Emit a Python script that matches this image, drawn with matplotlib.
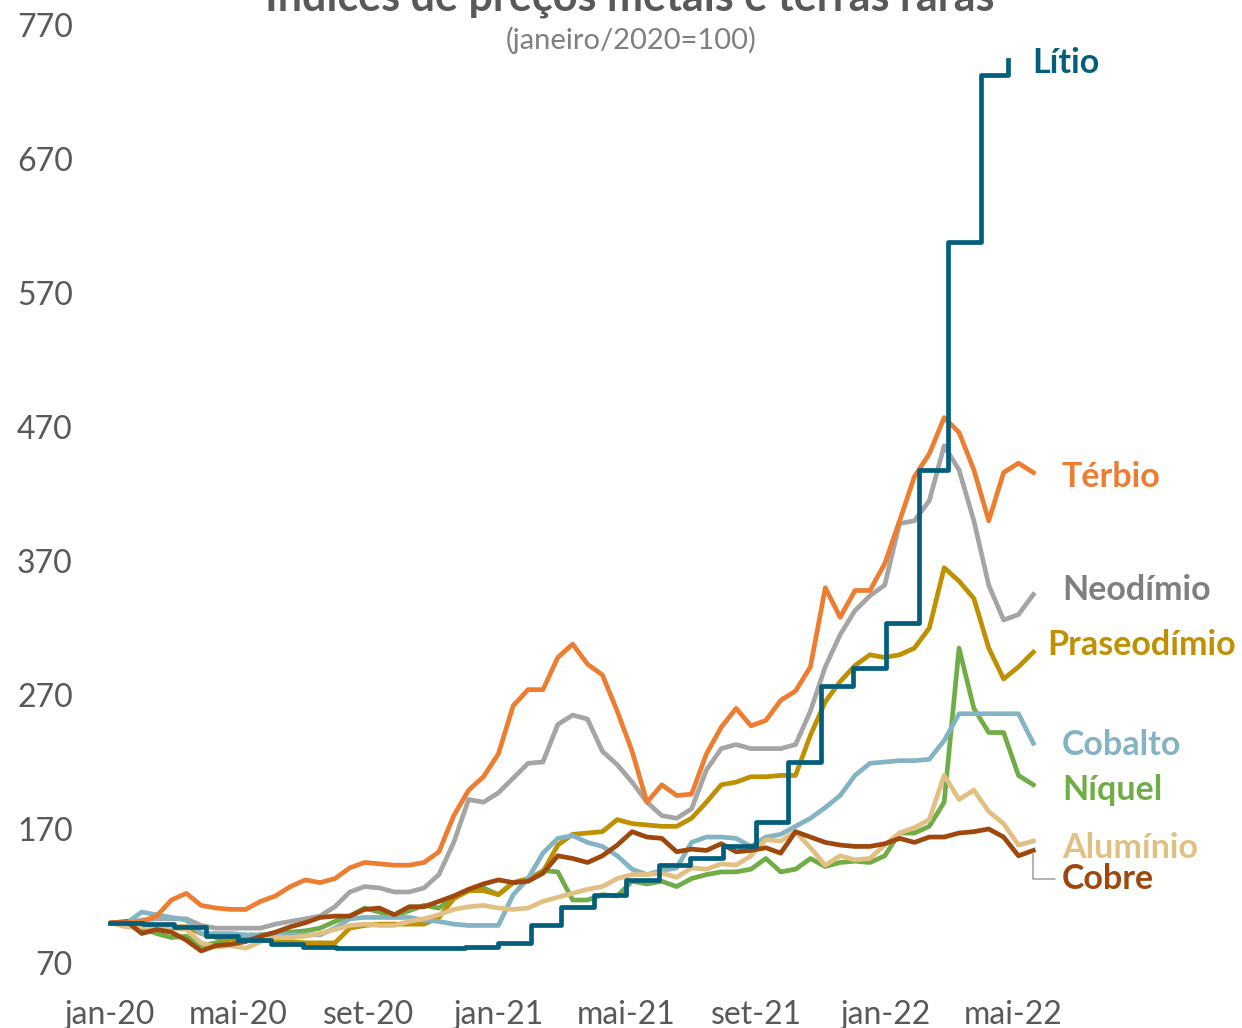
import numpy as np
import pandas as pd
import matplotlib
matplotlib.use('Agg')
import matplotlib.pyplot as plt

plt.rcParams['font.family'] = ['Lato', 'DejaVu Sans']

# datas quinzenais (a cada 14 dias) e mensais para o litio
datas = pd.date_range('2020-01-03', periods=63, freq='14D')
datas_litio = pd.date_range('2020-01-01', periods=28, freq='MS').append(pd.DatetimeIndex(['2022-04-26']))

litio = [100, 99, 97, 90, 87, 84, 82, 81, 81, 81, 81, 82, 85, 98, 112, 121, 132, 143, 148, 157,
         175, 220, 277, 290, 324, 438, 608, 733, 744]
terbio = [100, 100, 101, 105, 117, 122, 113, 111, 110, 110, 116, 120, 127, 132, 130, 133, 141, 145, 144, 143,
          143, 145, 153, 180, 199, 209, 226, 262, 274, 274, 298, 308, 293, 285, 258, 228, 190, 203, 195, 196,
          226, 246, 260, 247, 251, 266, 273, 291, 350, 328, 348, 348, 368, 400, 433, 450, 477, 466, 438, 400,
          436, 443, 436]
neodimio = [100, 100, 102, 103, 103, 103, 98, 96, 96, 96, 96, 99, 101, 103, 105, 112, 123, 127, 126, 123,
            123, 126, 136, 160, 192, 190, 197, 208, 219, 220, 248, 255, 252, 228, 218, 205, 190, 180, 178, 185,
            214, 230, 233, 230, 230, 230, 233, 258, 291, 315, 333, 344, 352, 398, 400, 415, 456, 438, 400, 352,
            326, 330, 345]
praseodimio = [100, 97, 97, 97, 97, 97, 92, 89, 88, 87, 87, 87, 86, 85, 85, 85, 96, 98, 99, 99,
               99, 99, 104, 118, 124, 124, 121, 130, 133, 138, 158, 166, 167, 168, 177, 174, 173, 172, 172, 178,
               190, 203, 205, 209, 209, 210, 210, 240, 265, 280, 292, 300, 298, 300, 305, 320, 365, 355, 342, 305,
               282, 291, 302]
cobalto = [100, 100, 108, 106, 104, 102, 92, 92, 92, 91, 91, 91, 91, 91, 91, 96, 103, 104, 104, 104,
           104, 102, 101, 99, 98, 98, 98, 121, 133, 152, 163, 165, 160, 157, 150, 140, 136, 139, 141, 160,
           164, 164, 163, 157, 164, 166, 172, 178, 186, 195, 210, 219, 220, 221, 221, 222, 236, 256, 256, 256,
           256, 256, 234]
niquel = [100, 99, 96, 92, 89, 90, 83, 85, 88, 89, 91, 92, 93, 94, 96, 101, 105, 111, 108, 105,
          109, 113, 111, 119, 124, 126, 121, 130, 132, 139, 138, 117, 117, 121, 120, 131, 129, 131, 127, 133,
          136, 138, 138, 140, 148, 138, 140, 148, 142, 145, 146, 145, 150, 167, 167, 172, 190, 305, 260, 242,
          242, 210, 203]
aluminio = [100, 97, 97, 96, 96, 95, 85, 82, 83, 81, 86, 89, 89, 90, 92, 95, 98, 99, 98, 98,
            101, 103, 106, 110, 112, 113, 111, 110, 111, 116, 119, 122, 125, 127, 133, 136, 136, 137, 134, 141,
            140, 144, 143, 150, 162, 161, 168, 156, 143, 150, 147, 148, 158, 167, 171, 177, 210, 192, 199, 183,
            174, 158, 161]
cobre = [100, 101, 92, 95, 93, 87, 79, 83, 84, 86, 90, 93, 97, 100, 104, 105, 105, 110, 111, 106,
         112, 112, 116, 120, 125, 129, 132, 130, 131, 137, 150, 148, 145, 150, 158, 168, 164, 163, 153, 155,
         154, 159, 153, 154, 156, 152, 168, 164, 160, 158, 157, 157, 159, 163, 160, 164, 164, 167, 168, 170,
         164, 150, 154]

nomes = ['Lítio', 'Térbio', 'Neodímio', 'Praseodímio', 'Cobalto', 'Níquel', 'Alumínio', 'Cobre']
cores = ['#035E7B', '#ED7D31', '#A5A5A5', '#BF9000', '#84B4C3', '#70AD47', '#E2C084', '#9E480E']
cores_texto = ['#035E7B', '#ED7D31', '#7F7F7F', '#BF9000', '#84B4C3', '#70AD47', '#E2C084', '#9E480E']
# posicao dos rotulos (data, valor)
rot_x = ['2022-05-19', '2022-06-16', '2022-06-16', '2022-06-02', '2022-06-16', '2022-06-16', '2022-06-16', '2022-06-16']
rot_y = [742, 433, 348, 307, 233, 199, 156, 133]

ticks = pd.date_range('2020-01-01', '2022-05-01', freq='4MS')
tick_labels = ['jan-20', 'mai-20', 'set-20', 'jan-21', 'mai-21', 'set-21', 'jan-22', 'mai-22']

fig = plt.figure(figsize=(12.42, 10.28), dpi=100)
ax = fig.add_axes([95/1242, 1-963/1028, 950/1242, 938/1028])

series = [terbio, neodimio, praseodimio, cobalto, niquel, aluminio, cobre]
for i in [4, 2, 1, 3, 5, 6]:
    ax.plot(datas, series[i], color=cores[i+1], lw=3.4, solid_joinstyle='round')
ax.plot(datas, series[0], color=cores[1], lw=3.4, solid_joinstyle='round')
ax.plot(datas_litio, litio, color=cores[0], lw=3.4, drawstyle='steps-post')

for i in range(7):
    ax.text(pd.Timestamp(rot_x[i]), rot_y[i], nomes[i], color=cores_texto[i], fontsize=24.5,
            fontweight='bold', ha='left', va='center')
ax.annotate(nomes[7], xy=(datas[-1], cobre[-1]), xytext=(pd.Timestamp(rot_x[7]), rot_y[7]),
            color=cores_texto[7], fontsize=24.5, fontweight='bold', ha='left', va='center',
            arrowprops=dict(arrowstyle='-', color='#A6A6A6', lw=1.2, shrinkA=3, shrinkB=2,
                            connectionstyle='angle,angleA=0,angleB=90,rad=0'))

ax.set_xlim(pd.Timestamp('2019-12-18'), pd.Timestamp('2022-05-31'))
ax.set_ylim(70, 770)
ax.set_yticks(np.arange(70, 771, 100))
ax.set_xticks(ticks)
ax.set_xticklabels(tick_labels)
ax.tick_params(length=0, labelsize=23, colors='#595959')
ax.tick_params(axis='y', pad=16)
ax.tick_params(axis='x', pad=27)
for s in ax.spines.values():
    s.set_visible(False)

fig.text(630/1242, 1-11/1028, 'Índices de preços metais e terras raras', ha='center', va='baseline',
         fontsize=31, fontweight='bold', color='#595959')
fig.text(631/1242, 1-40/1028, '(janeiro/2020=100)', ha='center', va='center', fontsize=21, color='#7F7F7F')

plt.savefig('out.png', dpi=100)
